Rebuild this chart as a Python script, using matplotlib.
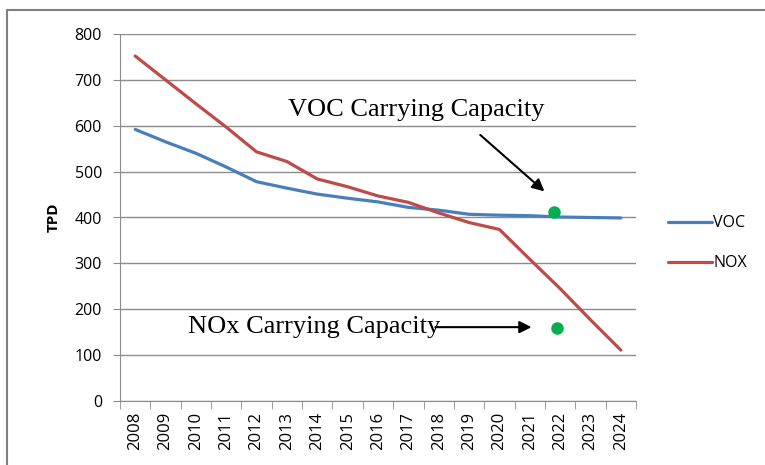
import numpy as np
import matplotlib.pyplot as plt
from matplotlib.patches import Rectangle

years = [str(y) for y in range(2008, 2025)]
voc = [592, 565, 540, 510, 478, 464, 451, 442, 434, 422, 416, 407, 405, 404, 401, 400, 399]
nox = [752, 700, 648, 597, 543, 522, 484, 467, 447, 433, 410, 389, 374, 309, 245, 177, 111]

# carrying capacity markers (category index position, value)
voc_cap = (13.8, 413)
nox_cap = (13.9, 160)

blue = '#4A7EBB'
red = '#BE4B48'
grid = '#8C8C8C'

fig = plt.figure(figsize=(7.65, 4.65), dpi=100)
fig.patches.append(Rectangle((7/765, -0.1), 1.2, (455)/465 + 0.1, transform=fig.transFigure,
                             fill=False, edgecolor='#808080', linewidth=1.5))
ax = fig.add_axes([120/765, (465-401)/465, 516/765, 367/465])

x = np.arange(len(years))
ax.plot(x, voc, color=blue, lw=2.3, label='VOC', solid_capstyle='round')
ax.plot(x, nox, color=red, lw=2.3, label='NOX', solid_capstyle='round')
ax.plot(*voc_cap, 'o', color='#00B050', ms=8, zorder=5)
ax.plot(*nox_cap, 'o', color='#00B050', ms=8, zorder=5)

ax.set_xlim(-0.5, len(years) - 0.5)
ax.set_ylim(0, 800)
ax.set_yticks(range(0, 801, 100))
ax.yaxis.grid(True, color=grid, lw=1)
ax.set_axisbelow(True)
ax.set_xticks(x)
ax.set_xticklabels(years, rotation=90, fontsize=12, family='Open Sans')
ax.set_xticks(np.arange(-0.5, len(years)), minor=True)
ax.tick_params(axis='x', which='major', length=0, pad=8)
ax.tick_params(axis='x', which='minor', length=6, color=grid, direction='out')
ax.tick_params(axis='y', length=5, color=grid, labelsize=11.5, pad=8)
for lab in ax.get_yticklabels():
    lab.set_family('Open Sans')
for s in ['top', 'right']:
    ax.spines[s].set_visible(False)
for s in ['left', 'bottom']:
    ax.spines[s].set_color(grid)

ax.set_ylabel('TPD', fontsize=11, fontweight='bold', family='Open Sans', labelpad=10)

ax.annotate('', xy=(13.55, 453), xytext=(11.3, 584),
            arrowprops=dict(arrowstyle='-|>', color='black', lw=1.5, mutation_scale=18))
ax.text(9.25, 634, 'VOC Carrying Capacity', fontsize=19, family='Liberation Serif',
        ha='center', va='center')
ax.annotate('', xy=(13.15, 161), xytext=(9.8, 161),
            arrowprops=dict(arrowstyle='-|>', color='black', lw=1.5, mutation_scale=18))
ax.text(5.9, 161, 'NOx Carrying Capacity', fontsize=19, family='Liberation Serif',
        ha='center', va='center')

ax.legend(loc='center left', bbox_to_anchor=(1.035, 0.43), frameon=False,
          prop={'family': 'Open Sans', 'size': 11.5}, handlelength=2.7,
          handletextpad=0.1, labelspacing=1.5)

fig.savefig('out.png', dpi=100)
